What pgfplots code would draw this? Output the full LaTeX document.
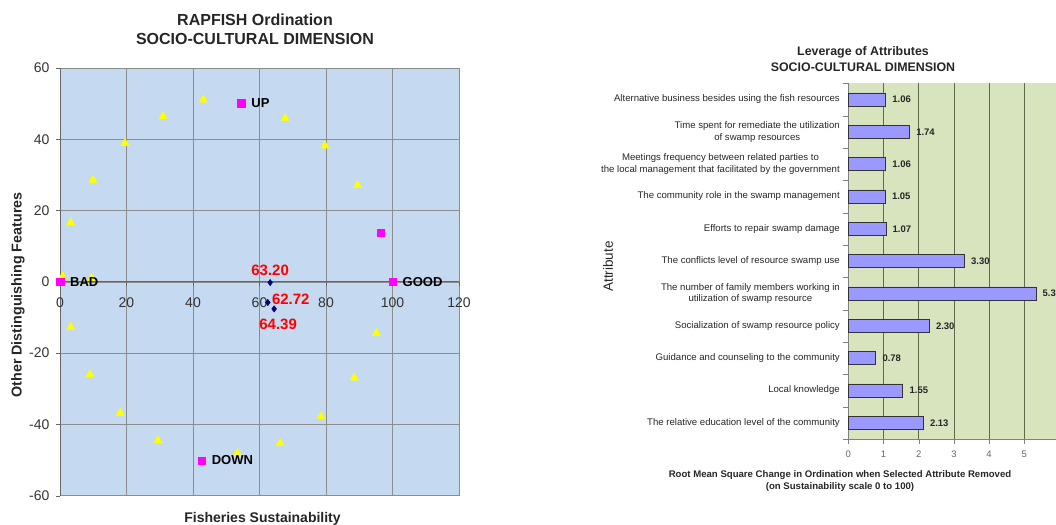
\documentclass[border=0pt]{standalone}
\usepackage{pgfplots}
\pgfplotsset{compat=1.18}
\usepackage{fontspec}
\setmainfont{Liberation Sans}
\definecolor{bgblue}{RGB}{197,217,241}
\definecolor{bggreen}{RGB}{215,228,189}
\definecolor{barblue}{RGB}{153,153,255}
\definecolor{gridgray}{RGB}{140,140,140}
\definecolor{gridgreen}{RGB}{95,105,75}
\definecolor{navyblue}{RGB}{0,0,128}
\definecolor{pinkmag}{RGB}{255,0,255}
\definecolor{brightyellow}{RGB}{255,255,0}
\begin{document}
\begin{tikzpicture}[x=1pt,y=1pt]
\useasboundingbox (0,0) rectangle (1056,524);
\clip (0,0) rectangle (1056,524);
% ---------------- Left: RAPFISH ordination ----------------
\begin{axis}[
  at={(60pt,28.3pt)}, anchor=south west, scale only axis,
  width=399pt, height=427.7pt,
  xmin=0, xmax=120, ymin=-60, ymax=60,
  xtick={0,20,...,120}, ytick={-60,-40,...,60},
  axis x line=middle, axis y line=left,
  hide obscured x ticks=false, hide obscured y ticks=false,
  axis line style={-, black!60, line width=1pt},
  axis background/.style={fill=bgblue, draw=gridgray, line width=0.8pt},
  grid=major, major grid style={gridgray, line width=0.6pt},
  tick align=outside, major tick length=4pt,
  tick style={black!60},
  ticklabel style={font=\fontsize{14}{14}\selectfont, text=black!80},
  xticklabel style={yshift=-8pt},
  yticklabel style={xshift=-3pt},
  /pgf/number format/assume math mode=true,
  clip=false,
]
\addplot[only marks, mark=triangle*, mark size=4.8pt, color=brightyellow, mark options={fill=brightyellow, draw=brightyellow}] coordinates {
(3.2,16.6) (9.9,28.6) (19.5,38.9) (31.0,46.4) (43.1,51.1) (67.7,45.9)
(79.7,38.2) (89.5,27.1) (0.8,1.5) (9.5,1.0) (3.2,-12.7) (9.0,-26.0)
(18.1,-36.8) (29.5,-44.5) (53.3,-48.1) (66.2,-45.3) (78.5,-37.8)
(88.5,-26.9) (95.2,-14.4)
};
\addplot[only marks, mark=square*, mark size=3.7pt, color=pinkmag,
  nodes near coords, point meta=explicit symbolic,
  every node near coord/.style={anchor=west, inner sep=0pt, xshift=10pt,
    font=\bfseries\fontsize{13}{13}\selectfont, text=black}]
  table[meta=label] {
x y label
54.5 50.1 UP
42.6 -50.1 DOWN
0 0 BAD
100 0 GOOD
96.5 13.8 {}
};
\addplot[only marks, mark=diamond*, mark size=3.2pt, color=navyblue,
  nodes near coords, point meta=explicit symbolic,
  every node near coord/.style={anchor=south, inner sep=0pt, yshift=7pt,
    font=\bfseries\fontsize{15}{15}\selectfont, text=red}]
  table[meta=label] {
x y label
63.20 -0.2 63.20
};
\addplot[only marks, mark=diamond*, mark size=3.2pt, color=navyblue,
  nodes near coords, point meta=explicit symbolic,
  every node near coord/.style={anchor=west, inner sep=0pt, xshift=4pt, yshift=3pt,
    font=\bfseries\fontsize{15}{15}\selectfont, text=red}]
  table[meta=label] {
x y label
62.5 -5.8 62.72
};
\addplot[only marks, mark=diamond*, mark size=3.2pt, color=navyblue,
  nodes near coords, point meta=explicit symbolic,
  every node near coord/.style={anchor=north, inner sep=0pt, xshift=4pt, yshift=-10pt,
    font=\bfseries\fontsize{15}{15}\selectfont, text=red}]
  table[meta=label] {
x y label
64.4 -7.6 64.39
};
\end{axis}
\node[font=\bfseries\fontsize{16}{16}\selectfont, text=black!85] at (255,504) {RAPFISH Ordination};
\node[font=\bfseries\fontsize{16}{16}\selectfont, text=black!85] at (255,484.5) {SOCIO-CULTURAL DIMENSION};
\node[rotate=90, font=\bfseries\fontsize{14.3}{14.3}\selectfont, text=black!85] at (18,229) {Other Distinguishing Features};
\node[font=\bfseries\fontsize{14}{14}\selectfont, text=black!85] at (262.5,5) {Fisheries Sustainability};
% ---------------- Right: leverage of attributes ----------------
\begin{axis}[
  at={(848.3pt,85pt)}, anchor=south west, scale only axis,
  width=211.2pt, height=355.7pt,
  xbar, bar width=13pt,
  xmin=0, xmax=6, ymin=-0.5, ymax=10.5, y dir=reverse,
  xtick={0,...,6},
  ytick={0,...,10},
  yticklabels={
    {Alternative business besides using the fish resources},
    {Time spent for remediate the utilization\\of swamp resources},
    {Meetings frequency between related parties to\\the local management that facilitated by the government},
    {The community role in the swamp management},
    {Efforts to repair swamp damage},
    {The conflicts level of resource swamp use},
    {The number of family members working in\\utilization of swamp resource},
    {Socialization of swamp resource policy},
    {Guidance and counseling to the community},
    {Local knowledge},
    {The relative education level of the community}},
  yticklabel style={align=center, font=\fontsize{9.6}{11.5}\selectfont, text=black!85},
  xticklabel style={font=\fontsize{9.5}{10}\selectfont, text=black!60, yshift=-3pt},
  /pgf/number format/assume math mode=true,
  major y tick style={draw=none},
  minor ytick={-0.5,0.5,...,10.5},
  minor tick length=5pt,
  tick align=outside, major tick length=5pt,
  tick style={black!50},
  axis lines*=left,
  axis line style={-, black!50, line width=0.8pt},
  axis background/.style={fill=bggreen},
  xmajorgrids, major grid style={gridgreen, line width=0.7pt},
  nodes near coords,
  nodes near coords align={horizontal},
  every node near coord/.style={font=\bfseries\fontsize{9.5}{10}\selectfont, text=black!85, xshift=3pt,
    /pgf/number format/.cd, fixed, fixed zerofill, precision=2, assume math mode=true},
  clip=false,
]
\addplot[fill=barblue, draw=black!80, line width=0.8pt] coordinates {
(1.06,0) (1.74,1) (1.06,2) (1.05,3) (1.07,4) (3.30,5) (5.33,6) (2.30,7) (0.78,8) (1.55,9) (2.13,10)
};
\end{axis}
\node[font=\bfseries\fontsize{12.4}{12.4}\selectfont, text=black!85] at (863,472) {Leverage of Attributes};
\node[font=\bfseries\fontsize{12.4}{12.4}\selectfont, text=black!85] at (863,457) {SOCIO-CULTURAL DIMENSION};
\node[rotate=90, font=\fontsize{13.5}{13.5}\selectfont, text=black!85] at (608,257.5) {Attribute};
\node[font=\bfseries\fontsize{9.6}{9.6}\selectfont, text=black!85] at (840,49) {Root Mean Square Change in Ordination when Selected Attribute Removed};
\node[font=\bfseries\fontsize{9.6}{9.6}\selectfont, text=black!85] at (840,37) {(on Sustainability scale 0 to 100)};
\end{tikzpicture}
\end{document}
